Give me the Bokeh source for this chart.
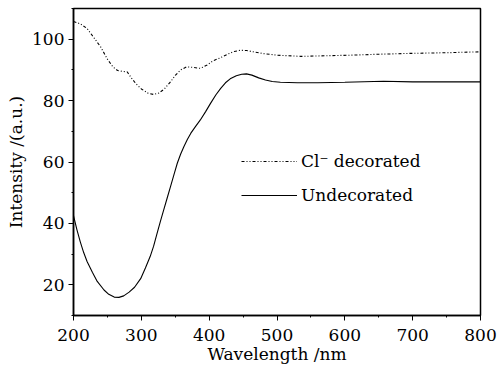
from bokeh.plotting import figure
from bokeh.models import Range1d, Legend, LegendItem, FixedTicker
from bokeh.embed import file_html
from bokeh.resources import INLINE

# Cl- decorated spectrum
wl_cl = [200, 210, 220, 230, 240, 250, 258, 265, 272, 279, 285, 292, 300, 310, 318, 326, 334,
         343, 350, 358, 367, 377, 387, 397, 406, 417, 427, 437, 446, 455, 465, 480, 500, 535,
         570, 610, 650, 700, 750, 800]
int_cl = [105.8, 105.0, 103.5, 100.5, 97.5, 93.5, 91.0, 89.8, 89.5, 89.4, 87.5, 85.5, 83.8,
          82.4, 82.0, 82.5, 83.8, 86.1, 88.2, 90.0, 91.0, 90.8, 90.5, 91.6, 93.0, 94.0, 95.1,
          96.0, 96.4, 96.3, 95.9, 95.3, 94.8, 94.4, 94.6, 94.8, 95.1, 95.4, 95.6, 95.9]

# Undecorated spectrum
wl_un = [200, 205, 210, 215, 220, 228, 235, 245, 252, 260, 267, 274, 282, 290, 299, 306, 313,
         318, 323, 328, 333, 338, 343, 348, 353, 358, 363, 368, 373, 380, 387, 395, 402, 410,
         417, 424, 431, 440, 448, 455, 463, 473, 483, 493, 505, 530, 560, 600, 657, 700, 800]
int_un = [42.5, 38.0, 34.0, 30.5, 27.6, 24.0, 21.1, 18.3, 16.9, 16.0, 15.9, 16.4, 17.6, 19.2,
          22.0, 25.5, 29.2, 32.5, 36.6, 40.6, 44.4, 48.2, 52.0, 55.8, 59.6, 62.6, 65.1, 67.4,
          69.4, 71.6, 73.7, 76.5, 79.1, 81.9, 84.0, 85.8, 87.1, 88.1, 88.6, 88.7, 88.3, 87.4,
          86.7, 86.2, 86.0, 85.8, 85.8, 86.0, 86.3, 86.1, 86.1]

x_ticks = [200, 300, 400, 500, 600, 700, 800]
y_ticks = [20, 40, 60, 80, 100]
labels = ["Cl\u207b decorated", "Undecorated"]

FONT = "DejaVu Serif"

p = figure(width=500, height=369, output_backend="svg", toolbar_location=None,
           x_range=Range1d(200, 800), y_range=Range1d(10, 110),
           min_border_left=73, min_border_right=20, min_border_top=8, min_border_bottom=54)
p.xgrid.visible = False
p.ygrid.visible = False
p.outline_line_color = "black"
p.outline_line_width = 1.5
p.background_fill_color = "white"
p.border_fill_color = "white"

r_cl = p.line(wl_cl, int_cl, line_color="black", line_width=1.1, line_dash="3 2 1 2 1 2")
r_un = p.line(wl_un, int_un, line_color="black", line_width=1.1)

for ax in (p.xaxis[0], p.yaxis[0]):
    ax.axis_line_width = 1.5
    ax.major_tick_out = 5
    ax.major_tick_in = 0
    ax.minor_tick_out = 2
    ax.minor_tick_in = 0
    ax.major_label_text_font = FONT
    ax.major_label_text_font_size = "17px"
    ax.major_label_text_color = "black"
    ax.axis_label_text_font = FONT
    ax.axis_label_text_font_size = "17px"
    ax.axis_label_text_font_style = "normal"
    ax.axis_label_text_color = "black"

p.xaxis[0].ticker = FixedTicker(ticks=x_ticks, minor_ticks=list(range(200, 801, 50)))
p.yaxis[0].ticker = FixedTicker(ticks=y_ticks, minor_ticks=list(range(10, 111, 10)))
p.xaxis[0].axis_label = "Wavelength /nm"
p.yaxis[0].axis_label = "Intensity /(a.u.)"
p.xaxis[0].axis_label_standoff = 0
p.yaxis[0].axis_label_standoff = 3
p.xaxis[0].major_label_standoff = 8
p.yaxis[0].major_label_standoff = 4

legend = Legend(items=[LegendItem(label=labels[0], renderers=[r_cl]),
                       LegendItem(label=labels[1], renderers=[r_un])],
                location=(164, 106), orientation="vertical",
                background_fill_alpha=0, border_line_alpha=0,
                glyph_width=56, glyph_height=16, label_standoff=4, spacing=14,
                padding=4, margin=0,
                label_text_font=FONT, label_text_font_size="17px", label_text_color="black")
p.add_layout(legend)

open("out.html", "w").write(file_html(p, INLINE))
